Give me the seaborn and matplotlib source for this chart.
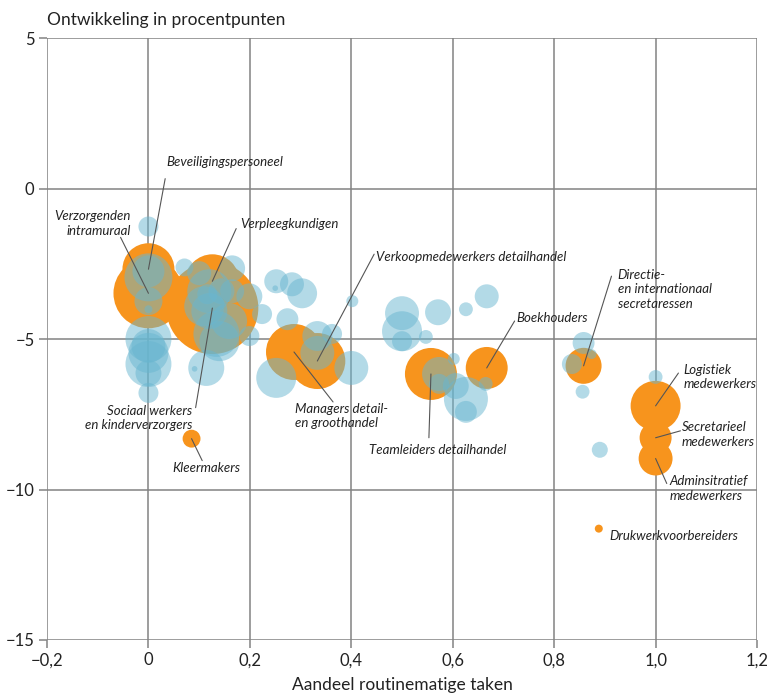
import matplotlib
matplotlib.use("Agg")
import pandas as pd
import matplotlib.pyplot as plt
import seaborn as sns


sns.set_theme(style="white")
plt.rcParams["font.family"] = ["Lato", "DejaVu Sans"]

# BEROEPEN ZONDER LABEL (blauw)
blauw_x = [0, 0, 0, 0, 0, 0, 0, 0, 0, 0, 0,
           0.071, 0.100, 0.120, 0.116, 0.144, 0.165, 0.165, 0.199, 0.120,
           0.134, 0.140, 0.114, 0.091, 0.199, 0.224, 0.252, 0.250, 0.283,
           0.303, 0.274, 0.252, 0.333, 0.333, 0.362, 0.402, 0.400,
           0.500, 0.500, 0.500, 0.547, 0.571, 0.626, 0.667, 0.602, 0.573,
           0.573, 0.606, 0.626, 0.626, 0.665, 0.858, 0.874, 0.835, 0.856,
           1.000, 0.890, 0.110, 0.159]
blauw_y = [-1.26, -2.95, -2.75, -3.74, -4.01, -5.00, -5.23, -5.46, -5.83, -6.13, -6.79,
           -2.62, -2.81, -3.41, -3.51, -3.41, -2.65, -3.41, -3.58, -4.07,
           -4.83, -5.07, -5.96, -5.99, -4.90, -4.17, -3.08, -3.31, -3.18,
           -3.48, -4.34, -6.29, -4.90, -5.46, -4.83, -3.74, -5.96,
           -4.14, -4.74, -5.07, -4.93, -4.11, -4.01, -3.58, -5.66, -6.16,
           -6.49, -6.56, -6.99, -7.42, -6.49, -5.13, -5.50, -5.83, -6.75,
           -6.26, -8.68, -3.91, -4.40]
blauw_n = [25, 144, 64, 49, 4, 132, 72, 100, 132, 42, 25,
           20, 36, 121, 25, 42, 42, 36, 42, 81,
           132, 100, 81, 2, 25, 25, 36, 2, 36,
           56, 30, 100, 56, 72, 25, 9, 72,
           72, 100, 25, 12, 42, 12, 36, 9, 72,
           25, 42, 121, 30, 12, 30, 6, 25, 12,
           12, 16, 100, 81]

# GELABELDE BEROEPEN (oranje)
oranje_namen = ["Beveiligingspersoneel", "Verzorgenden\nintramuraal", "Verpleegkundigen",
                "Sociaal werkers\nen kinderverzorgers", "Verkoopmedewerkers detailhandel",
                "Managers detail-\nen groothandel", "Teamleiders detailhandel", "Boekhouders",
                "Directie-\nen internationaal\nsecretaressen", "Logistiek\nmedewerkers",
                "Secretarieel\nmedewerkers", "Adminsitratief\nmedewerkers", "Kleermakers",
                "Drukwerkvoorbereiders"]
oranje_x = [0, 0, 0.126, 0.126, 0.333, 0.287, 0.557, 0.667, 0.858, 1.0, 1.0, 1.0, 0.085, 0.888]
oranje_y = [-2.68, -3.48, -3.08, -3.97, -5.73, -5.43, -6.16, -5.96, -5.89, -7.22, -8.28, -8.97, -8.31, -11.3]
oranje_n = [169, 306, 182, 529, 196, 196, 169, 110, 81, 156, 64, 72, 20, 4]

x_ticks = [-0.2, 0, 0.2, 0.4, 0.6, 0.8, 1.0, 1.2]
x_labels = ["\u22120,2", "0", "0,2", "0,4", "0,6", "0,8", "1,0", "1,2"]
y_ticks = [5, 0, -5, -10, -15]
y_labels = ["5", "0", "\u22125", "\u221210", "\u221215"]

# label: (tekst x, tekst y, uitlijning, lijn begin x, lijn begin y)
label_pos = {
    "Beveiligingspersoneel": (0.035, 0.89, "left", 0.033, 0.33),
    "Verzorgenden\nintramuraal": (-0.035, -1.16, "right", -0.055, -1.62),
    "Verpleegkundigen": (0.181, -1.19, "left", 0.173, -1.33),
    "Sociaal werkers\nen kinderverzorgers": (0.087, -7.62, "right", 0.093, -7.28),
    "Verkoopmedewerkers detailhandel": (0.449, -2.28, "left", 0.445, -2.18),
    "Managers detail-\nen groothandel": (0.289, -7.55, "left", 0.364, -7.09),
    "Teamleiders detailhandel": (0.435, -8.68, "left", 0.553, -8.28),
    "Boekhouders": (0.726, -4.30, "left", 0.722, -4.40),
    "Directie-\nen internationaal\nsecretaressen": (0.925, -3.34, "left", 0.913, -2.91),
    "Logistiek\nmedewerkers": (1.055, -6.26, "left", 1.045, -6.13),
    "Secretarieel\nmedewerkers": (1.052, -8.18, "left", 1.049, -8.05),
    "Adminsitratief\nmedewerkers": (1.028, -9.97, "left", 1.022, -9.80),
    "Kleermakers": (0.047, -9.30, "left", 0.106, -9.04),
    "Drukwerkvoorbereiders": (0.909, -11.56, "left", None, None),
}

blauw = pd.DataFrame({"x": blauw_x, "y": blauw_y, "n": blauw_n})
oranje = pd.DataFrame({"naam": oranje_namen, "x": oranje_x, "y": oranje_y, "n": oranje_n})

# bubbel-oppervlak evenredig met n
n_min = min(blauw_n + oranje_n)
n_max = max(blauw_n + oranje_n)
factor = 8.29
grootte = (factor * n_min, factor * n_max)

fig = plt.figure(figsize=(7.67, 6.93), dpi=100)
ax = fig.add_axes([0.0613, 0.0765, 0.9257, 0.8685])

sns.scatterplot(data=oranje, x="x", y="y", size="n", sizes=grootte,
                size_norm=(n_min, n_max), color="#F7941D", linewidth=0,
                legend=False, ax=ax, zorder=2)
sns.scatterplot(data=blauw, x="x", y="y", size="n", sizes=grootte,
                size_norm=(n_min, n_max), color="#69B6D0", alpha=0.5,
                linewidth=0, legend=False, ax=ax, zorder=3)

# labels
for _, rij in oranje.iterrows():
    tx, ty, ha, lx, ly = label_pos[rij["naam"]]
    if lx is not None:
        ax.plot([lx, rij["x"]], [ly, rij["y"]], color="#555555", lw=0.8, zorder=4)
    ax.text(tx, ty, rij["naam"], ha=ha, va="center", multialignment=ha,
            fontsize=9.5, style="italic", color="#222222", linespacing=1.25,
            zorder=5)

ax.set_xlim(-0.2, 1.2)
ax.set_ylim(-15, 5)
ax.set_xticks(x_ticks)
ax.set_xticklabels(x_labels)
ax.set_yticks(y_ticks)
ax.set_yticklabels(y_labels)

ax.grid(True, color="#838383", lw=1.1)
ax.set_axisbelow(True)
for s in ax.spines.values():
    s.set_visible(False)
ax.tick_params(axis="both", length=6, width=1.1, color="#838383",
               labelsize=12, labelcolor="#222222", pad=3,
               bottom=True, left=True)

ax.set_xlabel("Aandeel routinematige taken", fontsize=12.5, color="#222222", labelpad=6)
ax.set_ylabel("")
ax.text(0, 1.03, "Ontwikkeling in procentpunten", transform=ax.transAxes,
        ha="left", va="center", fontsize=12.5, color="#222222")

fig.savefig("out.png", dpi=100)
